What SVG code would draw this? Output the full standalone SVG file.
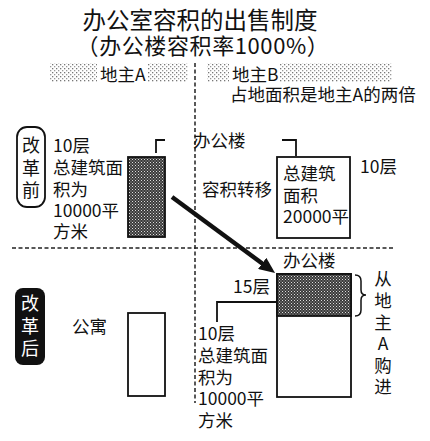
<svg xmlns="http://www.w3.org/2000/svg" width="430" height="441" viewBox="0 0 430 441">
<style>
text{font-family:"Noto Sans CJK SC","Noto Sans",sans-serif;fill:#111}
.t{font-size:17.5px}
.c{text-anchor:middle}
.ln{stroke:#111;fill:none;stroke-width:1.8}
.dash{stroke:#222;stroke-width:1.5;stroke-dasharray:4 2.5;fill:none}
</style>
<defs>
<pattern id="dark" width="3" height="3" patternUnits="userSpaceOnUse">
<rect width="3" height="3" fill="#3a3a3a"/>
<rect width="1" height="1" fill="#ddd"/>
<rect x="1.5" y="1.5" width="1" height="1" fill="#bbb"/>
</pattern>
<pattern id="halftone" width="4" height="4" patternUnits="userSpaceOnUse">
<rect width="4" height="4" fill="#fff"/>
<rect width="1.3" height="1.3" fill="#777"/>
<rect x="2" y="2" width="1.3" height="1.3" fill="#999"/>
</pattern>
<marker id="ah" viewBox="0 0 16 14" refX="6" refY="7" markerWidth="16" markerHeight="14" markerUnits="userSpaceOnUse" orient="auto">
<path d="M0,0 L16,7 L0,14 z" fill="#111"/>
</marker>
</defs>

<g id="title">
<text x="200" y="29" class="c" style="font-size:23.5px">办公室容积的出售制度</text>
<text x="203" y="54" class="c" style="font-size:22px;letter-spacing:0.6px">（办公楼容积率1000%）</text>
</g>

<g id="header">
<rect x="50" y="63" width="138" height="19" fill="url(#halftone)"/>
<rect x="207" y="63" width="185" height="19" fill="url(#halftone)"/>
<rect x="97" y="63" width="51" height="19" fill="#fff"/>
<rect x="229" y="63" width="51" height="19" fill="#fff"/>
<text x="100" y="81" class="t">地主A</text>
<text x="232" y="81" class="t">地主B</text>
<text x="230" y="101" class="t">占地面积是地主A的两倍</text>
</g>

<g id="connectors">
<path class="dash" d="M195,63 V403"/>
<path class="dash" d="M12,248 H395"/>
<path d="M172,197 L267,267" stroke="#111" stroke-width="4.5" marker-end="url(#ah)"/>
<path class="ln" d="M156,153 V140 H165"/>
<path class="ln" d="M282,140 H296 V156"/>
<path class="ln" d="M277,302 H217 V322"/>
<path class="ln" style="stroke-width:1.5" d="M355,275 Q361,275 361,281 L361,290 Q361,295 366,295 Q361,295 361,300 L361,310 Q361,316 355,316"/>
</g>

<g id="before-label">
<rect x="17" y="127" width="28" height="80" rx="10" fill="none" stroke="#111" stroke-width="1.8"/>
<text class="c" style="font-size:18px"><tspan x="31" y="152">改</tspan><tspan x="31" y="175">革</tspan><tspan x="31" y="197">前</tspan></text>
</g>

<g id="before-A">
<text class="t"><tspan x="53" y="152">10层</tspan><tspan x="53" y="174">总建筑面</tspan><tspan x="53" y="196">积为</tspan><tspan x="53" y="217">10000平</tspan><tspan x="53" y="238">方米</tspan></text>
<rect x="128" y="157" width="37" height="80" fill="url(#dark)" stroke="#111" stroke-width="1.8"/>
</g>

<g id="transfer">
<text class="t" x="193" y="147">办公楼</text>
<text class="t" x="202" y="196">容积转移</text>
</g>

<g id="before-B">
<rect x="277" y="157" width="73" height="81" fill="#fff" stroke="#111" stroke-width="1.8"/>
<text class="t"><tspan x="283" y="180">总建筑</tspan><tspan x="283" y="202">面积</tspan><tspan x="283" y="223">20000平</tspan></text>
<text class="t" x="360" y="173">10层</text>
</g>

<g id="after-label">
<rect x="15" y="288" width="30" height="77" rx="8" fill="#111"/>
<text class="c" style="font-size:18px;fill:#fff"><tspan x="30" y="310">改</tspan><tspan x="30" y="333">革</tspan><tspan x="30" y="355">后</tspan></text>
</g>

<g id="after-A">
<text class="t" x="72" y="333">公寓</text>
<rect x="128" y="313" width="37" height="83" fill="#fff" stroke="#111" stroke-width="1.8"/>
</g>

<g id="after-B">
<text class="t" x="283" y="267">办公楼</text>
<rect x="277" y="274" width="74" height="123" fill="#fff" stroke="#111" stroke-width="1.8"/>
<rect x="277" y="274" width="74" height="42" fill="url(#dark)" stroke="#111" stroke-width="1.8"/>
<text class="t" x="233" y="293">15层</text>
<text class="t"><tspan x="198" y="340">10层</tspan><tspan x="198" y="362">总建筑面</tspan><tspan x="198" y="384">积为</tspan><tspan x="198" y="405">10000平</tspan><tspan x="198" y="427">方米</tspan></text>
<text class="t c"><tspan x="383" y="285">从</tspan><tspan x="383" y="307">地</tspan><tspan x="383" y="329">主</tspan><tspan x="383" y="350">A</tspan><tspan x="383" y="372">购</tspan><tspan x="383" y="393">进</tspan></text>
</g>
</svg>
